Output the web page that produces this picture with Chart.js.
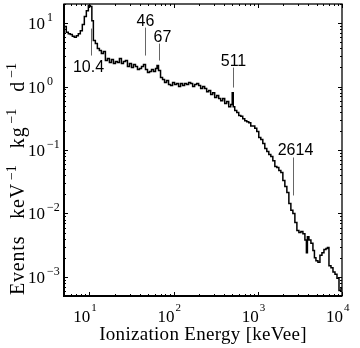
<!DOCTYPE html>
<html lang="en">
<head>
<meta charset="UTF-8">
<title>Ionization energy spectrum</title>
<style>
  body { margin: 0; background: #fff; }
  canvas { display: block; }
</style>
</head>
<body>
<canvas id="grafico" width="360" height="348"></canvas>
<script src="https://cdn.jsdelivr.net/npm/chart.js"></script>
<script>
// spectrum (keVee, events/keV/kg/d)
let energies = [4.90, 5.18, 5.47, 5.78, 6.11, 6.45, 6.81, 7.20, 7.60, 8.03, 8.48, 8.96, 9.47, 10.0, 10.56, 10.86,
  11.47, 12.11, 12.80, 13.52, 14.28, 15.09, 15.94, 16.84, 17.78, 18.79, 19.85, 20.96, 22.14, 23.39, 24.71, 26.10,
  27.57, 29.13, 30.77, 32.50, 34.34, 36.27, 38.31, 40.47, 42.76, 45.16, 47.71, 50.40, 53.24, 56.23, 59.40, 62.76,
  64.5, 68.1, 72.0, 76.0, 80.3, 84.8, 89.6, 94.7, 100, 105.6, 111.6, 117.9, 124.5, 131.5, 138.9, 146.8, 155.1,
  163.8, 173.0, 182.8, 193.1, 204.0, 215.4, 227.6, 240.4, 254.0, 268.3, 283.4, 299.4, 316.2, 334.1, 352.9, 372.8,
  393.8, 415.9, 439.4, 464.2, 490.3, 504, 518, 547.2, 578.1, 610.7, 645.1, 681.3, 719.7, 760.4, 803.2, 848.5,
  896.3, 946.8, 1000, 1056, 1116, 1179, 1245, 1315, 1389, 1468, 1551, 1638, 1730, 1828, 1931, 2040, 2154, 2276,
  2404, 2540, 2683, 2834, 2994, 3162, 3341, 3529, 3728, 3831, 3938, 4160, 4394, 4642, 4771, 5040, 5324, 5623,
  5940, 6276, 6629, 6813, 7197, 7603, 8032, 8483, 8962, 9466, 10000]
let rates = [10.2, 8.8, 7.2, 6.8, 6.6, 6.2, 6.0, 6.3, 6.8, 7.6, 9.5, 12.7, 15.7, 18.9, 18.2, 10.9,
  5.3, 4.76, 3.97, 3.69, 3.31, 3.56, 2.57, 2.76, 2.39, 2.66, 2.30, 2.48, 2.39, 2.76, 2.30, 2.48,
  2.57, 2.07, 2.30, 1.99, 2.22, 2.07, 1.85, 1.92, 2.07, 2.22, 1.85, 1.66, 1.72, 1.85, 1.72, 1.92,
  2.14, 1.79, 1.39, 1.29, 1.16, 1.24, 1.08, 1.04, 1.16, 1.08, 1.12, 1.00, 1.12, 1.04, 1.12, 1.08, 1.16,
  1.12, 1.00, 1.08, 1.12, 1.04, 0.93, 1.00, 0.93, 0.83, 0.87, 0.75, 0.80, 0.67, 0.72, 0.65, 0.60,
  0.65, 0.54, 0.58, 0.48, 0.52, 0.80, 0.48, 0.42, 0.39, 0.35, 0.34, 0.31, 0.29, 0.28, 0.27, 0.24,
  0.24, 0.22, 0.196, 0.157, 0.146, 0.127, 0.106, 0.095, 0.085, 0.079, 0.068, 0.055, 0.053, 0.0475, 0.0442, 0.0331, 0.0266, 0.0214,
  0.0144, 0.0112, 0.0100, 0.0072, 0.0054, 0.0050, 0.0052, 0.0048, 0.0038, 0.0024, 0.0043, 0.0038, 0.0034, 0.0026, 0.0020, 0.0018, 0.0017, 0.0022,
  0.0024, 0.0027, 0.0028, 0.0029, 0.0015, 0.0014, 0.0012, 0.0011, 0.00095, 0.00061, 0.00066]

// marked lines
let peakEnergies = [10.4, 46, 67, 511, 2614]
let peakLabels = ["10.4", "46", "67", "511", "2614"]
let peakLineLow = [3.08, 3.08, 2.57, 0.964, 0.0192]
let peakLineHigh = [8.2, 8.5, 4.76, 1.99, 0.0762]

// decade exponents for tick labels
let xDecades = [1, 2, 3, 4]
let yDecades = [-3, -2, -1, 0, 1]

let points = energies.map((e, i) => ({ x: e, y: rates[i] }))

const serif = '"Liberation Serif", "Times New Roman", serif'
const sans = '"Liberation Sans", Arial, sans-serif'

const decorations = {
  id: 'decorations',
  afterDraw(chart) {
    const ctx = chart.ctx
    const a = chart.chartArea
    const x = chart.scales.x
    const y = chart.scales.y
    ctx.save()
    ctx.fillStyle = '#000'
    ctx.strokeStyle = '#000'

    // inward ticks on all four sides
    ctx.lineWidth = 1
    ctx.beginPath()
    for (let d = 0; d <= 4; d++) {
      for (let m = 1; m <= 9; m++) {
        let v = m * Math.pow(10, d)
        if (v < x.min || v > x.max) continue
        let px = Math.round(x.getPixelForValue(v)) + 0.5
        let len = m == 1 ? 4 : 2
        ctx.moveTo(px, a.bottom); ctx.lineTo(px, a.bottom - len)
        ctx.moveTo(px, a.top); ctx.lineTo(px, a.top + len)
      }
    }
    for (let d = -4; d <= 1; d++) {
      for (let m = 1; m <= 9; m++) {
        let v = m * Math.pow(10, d)
        if (v < y.min || v > y.max) continue
        let py = Math.round(y.getPixelForValue(v)) + 0.5
        let len = m == 1 ? 4 : 2
        ctx.moveTo(a.left, py); ctx.lineTo(a.left + len, py)
        ctx.moveTo(a.right, py); ctx.lineTo(a.right - len, py)
      }
    }
    ctx.stroke()

    // frame
    ctx.lineWidth = 1.3
    ctx.strokeRect(a.left, a.top, a.right - a.left, a.bottom - a.top)
    ctx.lineWidth = 2
    ctx.beginPath()
    ctx.moveTo(a.left, a.top); ctx.lineTo(a.left, a.bottom); ctx.lineTo(a.right, a.bottom)
    ctx.stroke()

    // x tick labels
    xDecades.forEach(e => {
      let px = x.getPixelForValue(Math.pow(10, e))
      ctx.font = '17px ' + serif
      ctx.textAlign = 'right'
      ctx.textBaseline = 'alphabetic'
      ctx.fillText('10', px + 1, a.bottom + 26)
      ctx.font = '11px ' + serif
      ctx.textAlign = 'left'
      ctx.fillText(String(e), px + 2, a.bottom + 15)
    })

    // y tick labels
    yDecades.forEach(e => {
      let py = y.getPixelForValue(Math.pow(10, e))
      ctx.font = '17px ' + serif
      ctx.textAlign = 'left'
      ctx.textBaseline = 'alphabetic'
      ctx.fillText('10', a.left - 36, py + 6)
      ctx.font = '12px ' + serif
      ctx.fillText(String(e).replace('-', '\u2212'), a.left - 17, py - 2)
    })

    // x title
    ctx.font = '19px ' + serif
    ctx.letterSpacing = '0.3px'
    ctx.textAlign = 'center'
    ctx.fillText('Ionization Energy [keVee]', (a.left + a.right) / 2, a.bottom + 44)
    ctx.letterSpacing = '0px'

    // y title, rotated, built from pieces so the exponents sit up high
    let parts = [['Events', 0], ['keV', 17], ['\u22121', 3], ['kg', 17], ['\u22121', 3], ['d', 17], ['\u22121', 3]]
    ctx.save()
    ctx.translate(24, a.bottom - 1)
    ctx.rotate(-Math.PI / 2)
    ctx.textAlign = 'left'
    let pos = 0
    parts.forEach(p => {
      let sup = p[0].startsWith('\u2212')
      pos += p[1]
      ctx.font = (sup ? '14px ' : '20px ') + serif
      ctx.letterSpacing = sup ? '0px' : '0.8px'
      ctx.fillText(p[0], pos, sup ? -8 : 0)
      pos += ctx.measureText(p[0]).width
    })
    ctx.letterSpacing = '0px'
    ctx.restore()

    // peak markers
    const labelShift = [-3, 0, 3, 0, 2]
    ctx.strokeStyle = '#666'
    ctx.lineWidth = 1
    ctx.font = '16px ' + sans
    ctx.textAlign = 'center'
    peakEnergies.forEach((pe, i) => {
      let px = Math.round(x.getPixelForValue(pe)) + 0.5
      let top = y.getPixelForValue(peakLineHigh[i])
      let bottom = y.getPixelForValue(peakLineLow[i])
      ctx.beginPath()
      ctx.moveTo(px, top); ctx.lineTo(px, bottom)
      ctx.stroke()
      if (i == 0) {
        ctx.textBaseline = 'top'
        ctx.fillText(peakLabels[i], px + labelShift[i], bottom + 4)
      } else {
        ctx.textBaseline = 'alphabetic'
        ctx.fillText(peakLabels[i], px + labelShift[i], top - 2)
      }
    })
    ctx.restore()
  }
}

new Chart(document.querySelector('#grafico'), {
  type: 'line',
  data: {
    datasets: [{
      data: points,
      stepped: 'middle',
      borderColor: '#000',
      borderWidth: 1.5,
      pointRadius: 0,
      fill: false
    }]
  },
  options: {
    responsive: false,
    animation: false,
    layout: { padding: { left: 64, right: 18, top: 4, bottom: 52 } },
    plugins: { legend: { display: false }, tooltip: { enabled: false } },
    scales: {
      x: {
        type: 'logarithmic', min: 5, max: 10000,
        ticks: { display: false }, grid: { display: false }, border: { display: false },
        afterFit: s => { s.height = 0 }
      },
      y: {
        type: 'logarithmic', min: 0.0005, max: 20,
        ticks: { display: false }, grid: { display: false }, border: { display: false },
        afterFit: s => { s.width = 0 }
      }
    }
  },
  plugins: [decorations]
})
</script>
</body>
</html>
